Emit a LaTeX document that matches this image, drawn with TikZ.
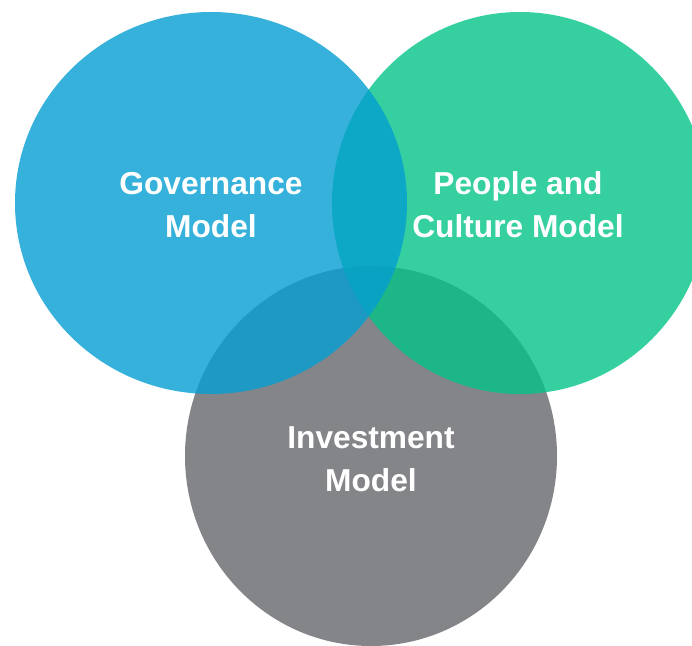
\documentclass[tikz,border=0pt]{standalone}
\usepackage{fontspec}
\setmainfont{Liberation Sans}
\definecolor{govblue}{RGB}{4,158,210}
\definecolor{peoplegreen}{RGB}{4,195,135}
\definecolor{investgray}{RGB}{132,133,137}
\tikzset{
  venn/.style={fill opacity=0.8},
  label text/.style={text=white, align=center, inner sep=0pt,
    font=\bfseries\fontsize{31.7}{43}\selectfont}
}
\begin{document}
\begin{tikzpicture}[x=1pt, y=-1pt]
  \useasboundingbox (0,0) rectangle (692,645);
  % the three overlapping sets, bottom to top
  \fill[investgray] (371,456) ellipse [x radius=186, y radius=190];
  \fill[peoplegreen, venn] (520,203) ellipse [x radius=188, y radius=191];
  \fill[govblue, venn] (211,203) ellipse [x radius=196, y radius=191];
  % labels
  \node[label text] (gov) at (211,205.5) {Governance\\Model};
  \node[label text] (people) at (518,205) {People and\\Culture Model};
  \node[label text] (invest) at (371,459.5) {Investment\\Model};
\end{tikzpicture}
\end{document}
